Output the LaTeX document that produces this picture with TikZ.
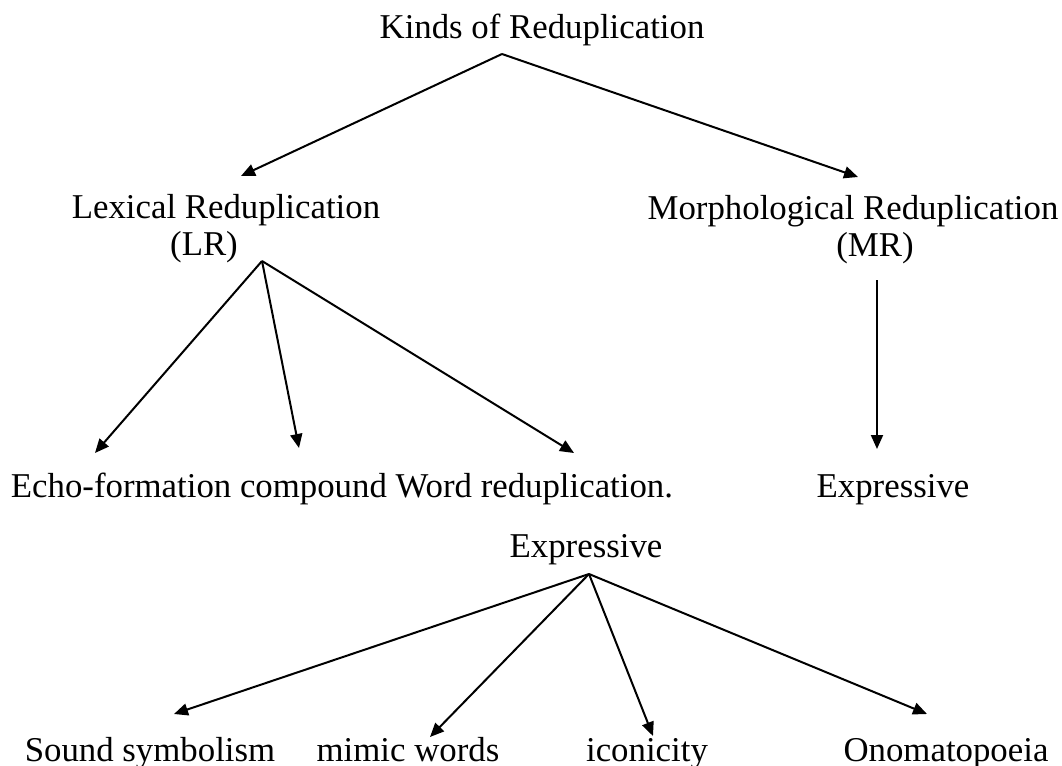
\documentclass[tikz,border=0pt]{standalone}
\usepackage{fontspec}
\setmainfont{Liberation Serif}
\usetikzlibrary{arrows.meta}

\begin{document}
\begin{tikzpicture}[x=0.5pt, y=-0.5pt,
	every node/.style={anchor=base, inner sep=0pt, font=\fontsize{17.4}{20}\selectfont},
	arr/.style={-{Triangle[length=7pt,width=6pt]}, line width=1pt}]
	\useasboundingbox (0,0) rectangle (1062,766);

	\node (kinds) at (542,38) {Kinds of Reduplication};
	\node (lex) at (226,218) {Lexical Reduplication};
	\node (lr) at (204,255) {(LR)};
	\node (mor) at (853,219) {Morphological Reduplication};
	\node (mr) at (875,256) {(MR)};
	\node (echo) at (342,497) {Echo-formation compound Word reduplication.};
	\node (expr1) at (893,497) {Expressive};
	\node (expr2) at (586,557) {Expressive};
	\node (sound) at (150,761) {Sound symbolism};
	\node (mimic) at (408,761) {mimic words};
	\node (icon) at (647,761) {iconicity};
	\node (onom) at (946,761) {Onomatopoeia};

	\coordinate (kindsfoot) at (502,54);
	\coordinate (lrfoot) at (262,261);
	\coordinate (mrfoot) at (877,280);
	\coordinate (exprfoot) at (589,574);

	\coordinate (lexhead) at (241,176);
	\coordinate (morhead) at (858,177);
	\coordinate (echohead) at (95,453);
	\coordinate (comphead) at (299,448);
	\coordinate (wordhead) at (574,453);
	\coordinate (exprhead) at (877,449);
	\coordinate (soundhead) at (174,714);
	\coordinate (mimichead) at (430,737);
	\coordinate (iconhead) at (653,736);
	\coordinate (onomhead) at (927,714);

	\draw[arr] (kindsfoot) -- (lexhead);
	\draw[arr] (kindsfoot) -- (morhead);
	\draw[arr] (lrfoot) -- (echohead);
	\draw[arr] (lrfoot) -- (comphead);
	\draw[arr] (lrfoot) -- (wordhead);
	\draw[arr] (mrfoot) -- (exprhead);
	\draw[arr] (exprfoot) -- (soundhead);
	\draw[arr] (exprfoot) -- (mimichead);
	\draw[arr] (exprfoot) -- (iconhead);
	\draw[arr] (exprfoot) -- (onomhead);
\end{tikzpicture}
\end{document}
